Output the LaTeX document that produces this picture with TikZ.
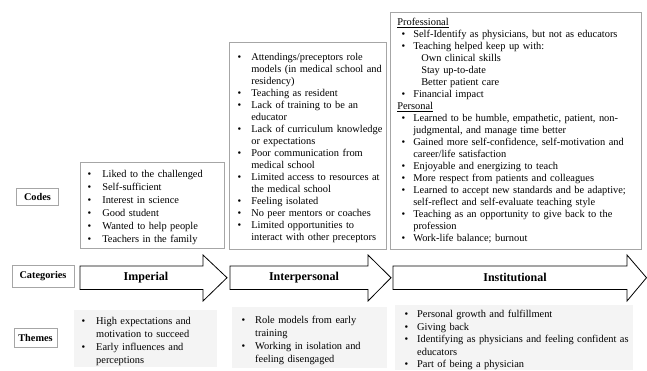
\documentclass[tikz,border=0pt]{standalone}
\usepackage{fontspec}
\setmainfont{Liberation Serif}
\usepackage{enumitem}
\usetikzlibrary{calc}
\usetikzlibrary{positioning}
\setlist[itemize]{label=\textbullet,nosep,labelwidth=4pt,labelsep=11pt,leftmargin=22pt,rightmargin=-10pt}

\begin{document}
\begin{tikzpicture}[x=1pt,y=-1pt,
    rowlabel/.style={draw=gray!70,line width=0.6pt,inner sep=0pt,font=\bfseries\fontsize{10.3}{12}\selectfont},
    codebox/.style={draw=gray!70,line width=0.6pt,anchor=north west,align=left,inner sep=0pt,font=\fontsize{10.4}{12}\selectfont},
    themebox/.style={fill=gray!9,anchor=north west,align=left,inner sep=0pt,font=\fontsize{10.4}{12.8}\selectfont},
    catarrow/.style={draw=black,fill=white,line width=0.8pt},
    catlabel/.style={font=\bfseries\fontsize{12}{14}\selectfont}]
    \useasboundingbox (0,0) rectangle (647,370);
    \clip (0,0) rectangle (647,370);
    \pgfmathsetmacro{\bodytop}{266}
    \pgfmathsetmacro{\bodybot}{289.5}
    \pgfmathsetmacro{\headtop}{255}
    \pgfmathsetmacro{\headbot}{301}
    \pgfmathsetmacro{\axis}{277.7}

    % row labels
    \node[rowlabel,minimum width=42pt,minimum height=17pt] (codes) at (37.5,196.5) {Codes};
    \node[rowlabel,minimum width=62pt,minimum height=22pt] (categories) at (43,276.5) {Categories};
    \node[rowlabel,minimum width=43pt,minimum height=19pt] (themes) at (35.5,337.5) {Themes};

    % codes
    \node[codebox,minimum width=144pt,minimum height=86pt,text width=144pt] (impcodes) at (80,162) {%
    \begin{itemize}[itemsep=1pt]
    \item Liked to the challenged
    \item Self-sufficient
    \item Interest in science
    \item Good student
    \item Wanted to help people
    \item Teachers in the family
    \end{itemize}};
    \node[codebox,minimum width=157pt,minimum height=207pt,text width=157pt] (intercodes) at (229,42) {%
    \begin{itemize}[labelsep=10pt]
    \item Attendings/preceptors role\\models (in medical school and\\residency)
    \item Teaching as resident
    \item Lack of training to be an\\educator
    \item Lack of curriculum knowledge\\or expectations
    \item Poor communication from\\medical school
    \item Limited access to resources at\\the medical school
    \item Feeling isolated
    \item No peer mentors or coaches
    \item Limited opportunities to\\interact with other preceptors
    \end{itemize}};
    \node[codebox,minimum width=251pt,minimum height=237pt,text width=251pt] (instcodes) at (390,12) {%
    \hspace*{7pt}\underline{Professional}
    \begin{itemize}[leftmargin=23pt,labelsep=8pt]
    \item Self-Identify as physicians, but not as educators
    \item Teaching helped keep up with:\\\hspace*{8pt}Own clinical skills\\\hspace*{8pt}Stay up-to-date\\\hspace*{8pt}Better patient care
    \item Financial impact
    \end{itemize}
    \hspace*{7pt}\underline{Personal}
    \begin{itemize}[leftmargin=23pt,labelsep=8pt]
    \item Learned to be humble, empathetic, patient, non-\\judgmental, and manage time better
    \item Gained more self-confidence, self-motivation and\\career/life satisfaction
    \item Enjoyable and energizing to teach
    \item More respect from patients and colleagues
    \item Learned to accept new standards and be adaptive;\\self-reflect and self-evaluate teaching style
    \item Teaching as an opportunity to give back to the\\profession
    \item Work-life balance; burnout
    \end{itemize}};

    % categories
    \draw[catarrow] (80,\bodytop) -- (203,\bodytop) -- (203,\headtop) -- (227,\axis) -- (203,\headbot) -- (203,\bodybot) -- (80,\bodybot) -- cycle;
    \draw[catarrow] (230,\bodytop) -- (368,\bodytop) -- (368,\headtop) -- (391,\axis) -- (368,\headbot) -- (368,\bodybot) -- (230,\bodybot) -- cycle;
    \draw[catarrow] (393,\bodytop) -- (627,\bodytop) -- (627,\headtop) -- (646.5,\axis) -- (627,\headbot) -- (627,\bodybot) -- (393,\bodybot) -- cycle;
    \node[catlabel] (imperial) at (146,\axis) {Imperial};
    \node[catlabel] (interpersonal) at (304,\axis) {Interpersonal};
    \node[catlabel] (institutional) at (515,\axis) {Institutional};

    % themes
    \node[themebox,minimum width=143pt,minimum height=57pt,text width=143pt] (impthemes) at (74,310) {%
    \begin{itemize}
    \item High expectations and\\motivation to succeed
    \item Early influences and\\perceptions
    \end{itemize}};
    \node[themebox,minimum width=155pt,minimum height=61pt,text width=155pt] (interthemes) at (232,307) {%
    \begin{itemize}[leftmargin=23pt,labelsep=10pt]
    \item Role models from early\\training
    \item Working in isolation and\\feeling disengaged
    \end{itemize}};
    \node[themebox,minimum width=238pt,minimum height=65pt,text width=238pt,font=\fontsize{10.4}{12.4}\selectfont] (instthemes) at (395,305) {%
    \begin{itemize}[labelsep=9pt]
    \item Personal growth and fulfillment
    \item Giving back
    \item Identifying as physicians and feeling confident as\\educators
    \item Part of being a physician
    \end{itemize}};
\end{tikzpicture}
\end{document}
